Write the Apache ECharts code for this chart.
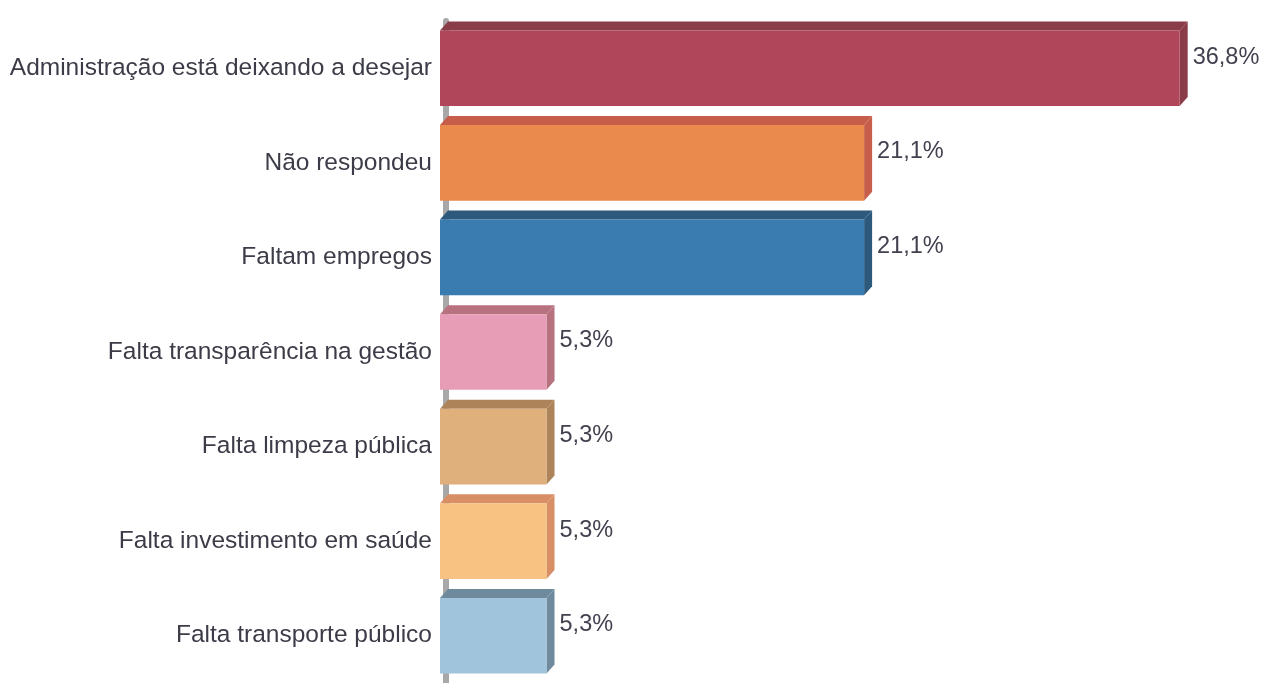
<!DOCTYPE html>
<html>
<head>
<meta charset="utf-8">
<script src="https://cdn.jsdelivr.net/npm/echarts@6/dist/echarts.min.js"></script>
<style>
  html, body { margin:0; padding:0; background:#fff; }
  #chart { width:1266px; height:683px; }
</style>
</head>
<body>
<div id="chart"></div>
<script>
// dados do gráfico
const categories = [
  'Administração está deixando a desejar',
  'Não respondeu',
  'Faltam empregos',
  'Falta transparência na gestão',
  'Falta limpeza pública',
  'Falta investimento em saúde',
  'Falta transporte público'
]
const values = [36.8, 21.1, 21.1, 5.3, 5.3, 5.3, 5.3]

// cores: frente / topo e lateral
const frontColors = ['#b0465a', '#ea8a4c', '#3a7bb0', '#e79db5', '#dfb07c', '#f8c382', '#a0c4dc']
const edgeColors  = ['#8a3c48', '#c75e4c', '#2c597c', '#b8717f', '#ad845a', '#d98f66', '#6e8a9c']

const DX = 8, DY = 9

function renderBar(params, api) {
  const cat = api.value(0)
  const val = api.value(1)
  const start = api.coord([0, cat])
  const end = api.coord([val, cat])
  const band = api.size([0, 1])[1]
  const h = band * 0.8
  const x0 = start[0], x1 = end[0]
  const y0 = start[1] - h / 2, y1 = start[1] + h / 2
  const i = params.dataIndex
  return {
    type: 'group',
    children: [
      { type:'polygon', shape:{ points:[[x0, y0], [x0 + DX, y0 - DY], [x1 + DX, y0 - DY], [x1, y0]] },
        style:{ fill: edgeColors[i] } },
      { type:'polygon', shape:{ points:[[x1, y0], [x1 + DX, y0 - DY], [x1 + DX, y1 - DY], [x1, y1]] },
        style:{ fill: edgeColors[i] } },
      { type:'rect', shape:{ x:x0, y:y0, width:x1 - x0, height:h },
        style:{ fill: frontColors[i] } },
      { type:'text', style:{
          text: val.toFixed(1).replace('.', ',') + '%',
          x: x1 + DX + 5, y: start[1] - 11,
          fill:'#41414f', fontSize:23.5, fontFamily:'Liberation Sans, Arial, sans-serif',
          verticalAlign:'middle', align:'left'
        } }
    ]
  }
}

const chart = echarts.init(document.getElementById('chart'))
chart.setOption({
  animation: false,
  grid: { left:440, right:22, top:21, height:671 },
  xAxis: { type:'value', min:0, max:40, show:false },
  yAxis: {
    type:'category', inverse:true, data:categories,
    offset:-6,
    axisTick:{ show:false },
    axisLine:{ show:true, lineStyle:{ color:'#a8a8a8', width:6 } },
    axisLabel:{
      margin:14, color:'#3c3c48', fontSize:24.5,
      fontFamily:'Liberation Sans, Arial, sans-serif',
      padding:[10, 0, 0, 0]
    }
  },
  series: [{
    type:'custom',
    renderItem: renderBar,
    encode:{ x:1, y:0 },
    data: values.map((v, i) => [i, v]),
    z: 3
  }]
})
</script>
</body>
</html>
